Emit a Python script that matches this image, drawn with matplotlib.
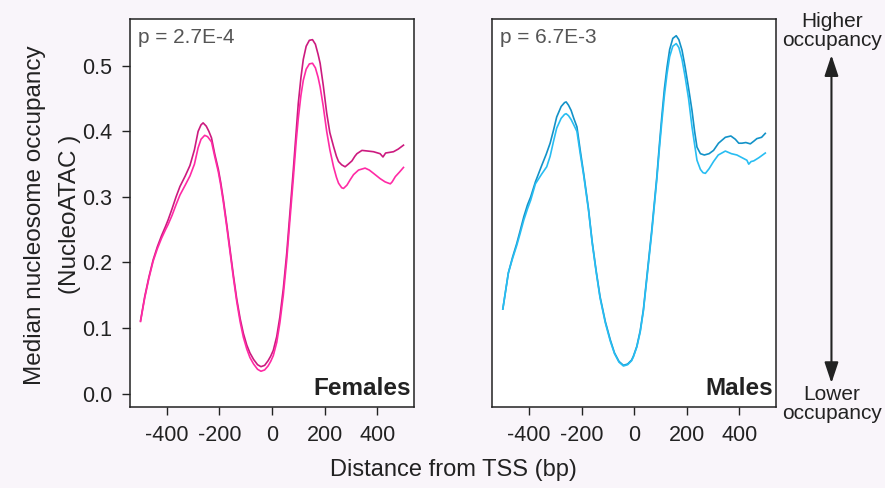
import numpy as np
import matplotlib
matplotlib.use("Agg")
from matplotlib import pyplot as plt

plt.rcParams['font.family'] = ['Liberation Sans', 'DejaVu Sans']

# median nucleosome occupancy around the TSS, females
fem_x_hi = [-500, -484, -468, -452, -436, -420, -405, -395, -380, -365, -350, -330, -312, -295,
            -281, -270, -262, -250, -240, -230, -218, -204, -195, -185, -172, -160, -147, -134,
            -121, -109, -96, -84, -70, -55, -42, -28, -15, -5, 5, 18, 30, 43, 56, 68, 81, 92,
            100, 110, 119, 130, 142, 154, 165, 175, 183, 195, 208, 220, 234, 245, 253, 265, 278,
            290, 304, 315, 323, 342, 365, 386, 411, 422, 432, 462, 480, 500]
fem_y_hi = [.111, .148, .178, .204, .224, .241, .255, .265, .282, .300, .316, .332, .348, .372,
            .400, .410, .413, .408, .400, .390, .366, .342, .322, .296, .258, .221, .181, .144,
            .114, .092, .074, .062, .052, .044, .041, .043, .050, .057, .066, .087, .117, .160,
            .214, .275, .341, .400, .443, .482, .510, .530, .539, .540, .533, .518, .504, .470,
            .428, .398, .377, .362, .354, .349, .346, .350, .355, .362, .366, .371, .370, .369,
            .366, .361, .367, .369, .373, .379]

fem_x_lo = [-500, -484, -468, -452, -436, -420, -405, -395, -380, -365, -350, -330, -312, -295,
            -281, -270, -256, -245, -230, -218, -204, -195, -185, -172, -160, -147, -134, -121,
            -109, -96, -84, -70, -55, -42, -28, -15, -5, 5, 18, 30, 43, 56, 68, 81, 92, 100,
            110, 119, 130, 142, 154, 165, 175, 183, 195, 208, 220, 234, 245, 253, 265, 272, 285,
            297, 310, 329, 354, 370, 386, 411, 430, 443, 450, 457, 469, 485, 500]
fem_y_lo = [.110, .146, .176, .202, .221, .237, .250, .258, .272, .288, .303, .318, .332, .350,
            .375, .388, .394, .392, .384, .362, .338, .318, .292, .254, .217, .177, .140, .109,
            .086, .068, .055, .045, .037, .034, .036, .042, .049, .058, .078, .108, .150, .204,
            .264, .328, .385, .420, .455, .478, .495, .503, .504, .497, .483, .468, .438, .400,
            .372, .346, .330, .321, .314, .313, .318, .326, .334, .341, .344, .341, .336, .328,
            .323, .321, .320, .323, .331, .338, .345]

# males
mal_x_hi = [-500, -479, -463, -447, -435, -420, -406, -394, -376, -352, -335, -320, -307, -295,
            -278, -265, -259, -250, -240, -230, -218, -205, -192, -180, -174, -160, -145, -130,
            -110, -91, -75, -58, -41, -25, -10, -3, 10, 23, 35, 50, 67, 86, 96, 105, 115, 125,
            135, 147, 160, 170, 182, 194, 207, 220, 230, 239, 252, 267, 285, 302, 321, 347, 368,
            385, 398, 410, 425, 442, 455, 467, 485, 499]
mal_y_hi = [.129, .184, .208, .229, .247, .270, .288, .300, .323, .348, .365, .382, .402, .422,
            .438, .444, .445, .440, .432, .420, .407, .370, .335, .300, .282, .232, .188, .148,
            .110, .082, .062, .049, .043, .045, .051, .057, .072, .096, .128, .185, .250, .330,
            .380, .422, .465, .498, .525, .542, .546, .540, .524, .498, .466, .432, .400, .376,
            .366, .364, .366, .371, .382, .391, .393, .388, .382, .382, .383, .381, .385, .389,
            .391, .397]

mal_x_lo = [-500, -479, -463, -447, -435, -420, -406, -394, -376, -352, -333, -320, -307, -295,
            -278, -265, -259, -250, -240, -230, -218, -205, -192, -180, -174, -160, -145, -130,
            -110, -91, -75, -58, -41, -25, -10, -3, 10, 23, 35, 50, 67, 86, 96, 105, 115, 125,
            135, 147, 160, 170, 182, 194, 207, 220, 230, 239, 252, 262, 271, 285, 302, 320, 347,
            370, 391, 410, 429, 436, 445, 455, 475, 499]
mal_y_lo = [.129, .184, .206, .226, .243, .265, .282, .295, .320, .335, .346, .362, .385, .405,
            .420, .426, .427, .424, .418, .410, .400, .365, .332, .297, .280, .230, .186, .146,
            .108, .080, .061, .048, .042, .044, .050, .056, .071, .094, .126, .182, .246, .326,
            .374, .414, .455, .488, .514, .530, .534, .528, .510, .483, .450, .407, .380, .356,
            .342, .337, .336, .343, .354, .364, .370, .366, .364, .360, .356, .350, .354, .355,
            .360, .367]

x_ticks = [-400, -200, 0, 200, 400]
y_ticks = [0.0, 0.1, 0.2, 0.3, 0.4, 0.5]

bg = '#f9f5fa'
ink = '#222222'
fig = plt.figure(figsize=(8.85, 4.88), dpi=100, facecolor=bg)
ax1 = fig.add_axes([0.1469, 0.1654, 0.3209, 0.7963])
ax2 = fig.add_axes([0.5563, 0.1654, 0.3206, 0.7963])

panels = [
    (ax1, fem_x_hi, fem_y_hi, fem_x_lo, fem_y_lo, '#cc1a7f', '#ff2aa5', 'p = 2.7E-4', 'Females'),
    (ax2, mal_x_hi, mal_y_hi, mal_x_lo, mal_y_lo, '#1292c8', '#28bdf2', 'p = 6.7E-3', 'Males'),
]
for ax, xh, yh, xl, yl, c_hi, c_lo, ptxt, name in panels:
    ax.plot(xh, yh, color=c_hi, lw=1.2)
    ax.plot(xl, yl, color=c_lo, lw=1.2)
    ax.set_xlim(-540, 540)
    ax.set_ylim(-0.021, 0.572)
    ax.set_xticks(x_ticks)
    ax.set_xticklabels([str(t) for t in x_ticks])
    ax.tick_params(axis='both', direction='out', length=6, width=1, labelsize=15.5,
                   colors=ink, pad=7)
    for s in ax.spines.values():
        s.set_linewidth(1.1)
        s.set_color(ink)
    ax.text(0.027, 0.975, ptxt, transform=ax.transAxes, ha='left', va='top',
            fontsize=15, color='#555555')
    ax.text(0.99, 0.02, name, transform=ax.transAxes, ha='right', va='bottom',
            fontsize=17.5, fontweight='bold', color=ink)

ax1.set_yticks(y_ticks)
ax1.set_yticklabels([f'{t:.1f}' for t in y_ticks])
ax2.set_yticks([])

fig.text(0.039, 0.56, 'Median nucleosome occupancy', rotation=90, ha='center', va='center',
         fontsize=17.5, color=ink)
fig.text(0.079, 0.56, '(NucleoATAC )', rotation=90, ha='center', va='center',
         fontsize=17.5, color=ink)
fig.text(0.512, 0.036, 'Distance from TSS (bp)', ha='center', va='center',
         fontsize=17, color=ink)

fig.text(0.940, 0.937, 'Higher\noccupancy', ha='center', va='center', fontsize=15,
         color=ink, linespacing=1.0)
fig.text(0.940, 0.172, 'Lower\noccupancy', ha='center', va='center', fontsize=15,
         color=ink, linespacing=1.0)
fig.patches.append(matplotlib.patches.FancyArrowPatch(
    (0.9395, 0.215), (0.9395, 0.887), transform=fig.transFigure,
    arrowstyle='<|-|>,head_length=0.9,head_width=0.3', mutation_scale=14,
    lw=1.5, color=ink, shrinkA=0, shrinkB=0))

fig.savefig('out.png', dpi=100, facecolor=bg)
